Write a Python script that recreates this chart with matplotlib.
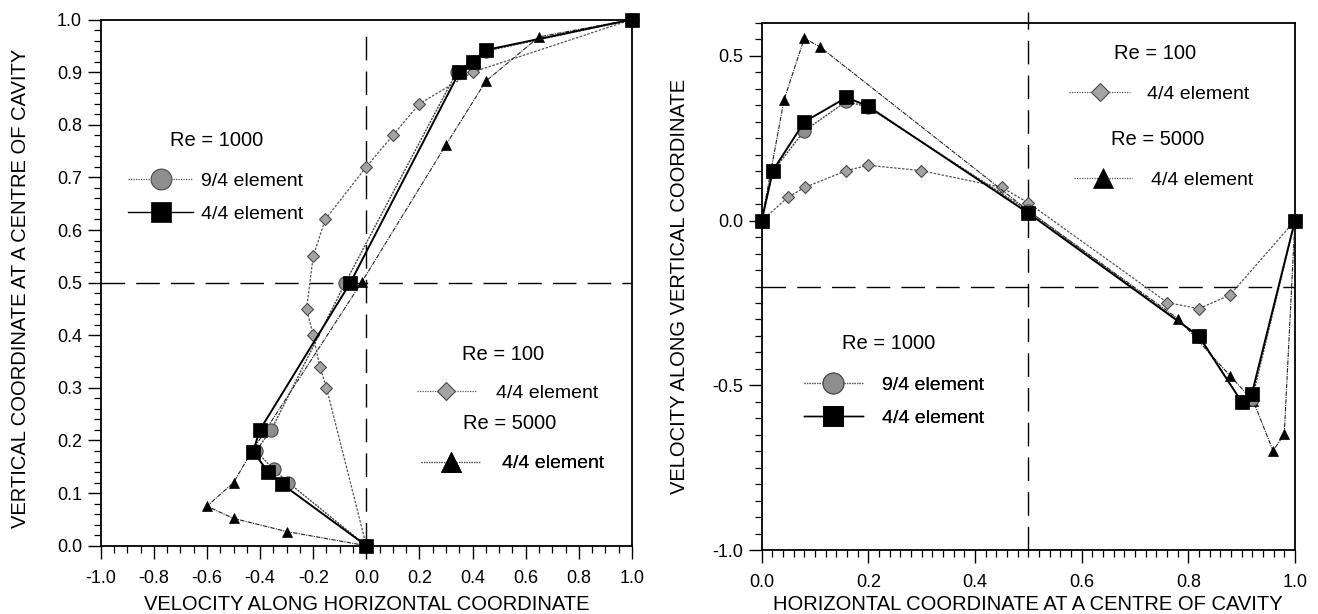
import matplotlib
matplotlib.use("Agg")
import matplotlib.pyplot as plt
from matplotlib.lines import Line2D
from matplotlib.ticker import MultipleLocator, FormatStrFormatter

plt.rcParams['font.family'] = ['Liberation Sans', 'DejaVu Sans']
plt.rcParams['axes.unicode_minus'] = False

# ---------------- Left panel: u along vertical centreline ----------------
L_re100_u = [0.0, -0.15, -0.175, -0.20, -0.225, -0.20, -0.155, 0.0, 0.10, 0.20, 0.40, 1.0]
L_re100_y = [0.0, 0.30, 0.34, 0.40, 0.45, 0.55, 0.62, 0.72, 0.78, 0.84, 0.90, 1.0]

L_re1000_94_u = [0.0, -0.294, -0.348, -0.416, -0.358, -0.079, 0.34, 0.40, 0.45, 1.0]
L_re1000_94_y = [0.0, 0.12, 0.145, 0.18, 0.22, 0.50, 0.90, 0.92, 0.94, 1.0]

L_re1000_44_u = [0.0, -0.317, -0.371, -0.426, -0.401, -0.06, 0.35, 0.40, 0.45, 1.0]
L_re1000_44_y = [0.0, 0.117, 0.141, 0.179, 0.22, 0.50, 0.90, 0.92, 0.942, 1.0]

L_re5000_u = [0.0, -0.30, -0.50, -0.60, -0.50, -0.43, -0.016, 0.30, 0.45, 0.65, 1.0]
L_re5000_y = [0.0, 0.027, 0.052, 0.075, 0.12, 0.18, 0.502, 0.762, 0.883, 0.967, 1.0]

L_xticks = [-1.0, -0.8, -0.6, -0.4, -0.2, 0.0, 0.2, 0.4, 0.6, 0.8, 1.0]
L_yticks = [0.0, 0.1, 0.2, 0.3, 0.4, 0.5, 0.6, 0.7, 0.8, 0.9, 1.0]
L_hline = 0.5
L_vline = 0.0

# ---------------- Right panel: v along horizontal centreline ----------------
R_re100_x = [0.0, 0.05, 0.081, 0.159, 0.20, 0.299, 0.45, 0.50, 0.761, 0.82, 0.878, 1.0]
R_re100_v = [0.0, 0.072, 0.101, 0.152, 0.168, 0.152, 0.101, 0.054, -0.249, -0.267, -0.226, 0.0]

R_re1000_94_x = [0.0, 0.021, 0.08, 0.159, 0.199, 0.50, 0.82, 0.90, 0.92, 1.0]
R_re1000_94_v = [0.0, 0.15, 0.273, 0.362, 0.345, 0.03, -0.35, -0.55, -0.54, 0.0]

R_re1000_44_x = [0.0, 0.021, 0.08, 0.159, 0.199, 0.50, 0.82, 0.90, 0.919, 1.0]
R_re1000_44_v = [0.0, 0.152, 0.30, 0.374, 0.348, 0.023, -0.351, -0.55, -0.527, 0.0]

R_re5000_x = [0.0, 0.042, 0.08, 0.109, 0.50, 0.781, 0.879, 0.922, 0.959, 0.98, 1.0]
R_re5000_v = [0.0, 0.367, 0.554, 0.528, 0.03, -0.298, -0.472, -0.548, -0.699, -0.648, 0.0]

R_xticks = [0.0, 0.2, 0.4, 0.6, 0.8, 1.0]
R_yticks = [-1.0, -0.5, 0.0, 0.5]
R_hline = -0.2
R_vline = 0.5

# ---------------- styles ----------------
st_re100 = dict(color='#555555', lw=0.9, ls=(0, (2, 1.2)), marker='D', ms=5.8,
                mfc='#a3a3a3', mec='#4a4a4a', mew=0.8)
st_94 = dict(color='#444444', lw=1.0, ls=(0, (1.5, 0.8)), marker='o', ms=9.5,
             mfc='#8e8e8e', mec='#4a4a4a', mew=0.8)
st_44 = dict(color='black', lw=1.4, ls='-', marker='s', ms=10.2,
             mfc='black', mec='black', mew=0.5)
st_5000 = dict(color='#222222', lw=0.8, ls=(0, (4, 1, 1, 1)), marker='^', ms=7,
               mfc='black', mec='black', mew=0.5)

def proxy(st, ms):
    d = dict(st)
    d['ms'] = ms
    d['ls'] = (0, (1, 1))
    d['lw'] = 0.9
    d['color'] = '#555555'
    if st is st_44:
        d['ls'] = '-'
        d['color'] = 'black'
        d['lw'] = 1.0
    return Line2D([], [], **d)

fig = plt.figure(figsize=(13.18, 6.14), dpi=100)
ax1 = fig.add_axes([0.0764, 0.1112, 0.4031, 0.857])
ax2 = fig.add_axes([0.5779, 0.1042, 0.4046, 0.8583])

dash = (0, (17, 8))

# left panel
ax1.axhline(L_hline, color='black', lw=1.0, ls=dash, zorder=1)
ax1.axvline(L_vline, ymax=0.985, color='black', lw=1.0, ls=dash, zorder=1)
ax1.plot(L_re100_u, L_re100_y, clip_on=False, zorder=3, **st_re100)
ax1.plot(L_re5000_u, L_re5000_y, clip_on=False, zorder=3, **st_5000)
ax1.plot(L_re1000_94_u, L_re1000_94_y, clip_on=False, zorder=4, **st_94)
ax1.plot(L_re1000_44_u, L_re1000_44_y, clip_on=False, zorder=5, **st_44)
ax1.set_xlim(-1.0, 1.0)
ax1.set_ylim(0.0, 1.0)
ax1.set_xticks(L_xticks)
ax1.set_yticks(L_yticks)
ax1.xaxis.set_minor_locator(MultipleLocator(0.05))
ax1.yaxis.set_minor_locator(MultipleLocator(0.02))
ax1.xaxis.set_major_formatter(FormatStrFormatter('%.1f'))
ax1.yaxis.set_major_formatter(FormatStrFormatter('%.1f'))
ax1.set_xlabel('VELOCITY ALONG HORIZONTAL COORDINATE', fontsize=14.5)
ax1.set_ylabel('VERTICAL COORDINATE AT A CENTRE OF CAVITY', fontsize=14.5)
ax1.xaxis.set_label_coords(0.5, -0.093)
ax1.yaxis.set_label_coords(-0.133, 0.49)

# right panel
ax2.axhline(R_hline, color='black', lw=1.0, ls=dash, zorder=1)
ax2.axvline(R_vline, ymax=1.02, clip_on=False, color='black', lw=1.0, ls=dash, zorder=1)
ax2.plot(R_re100_x, R_re100_v, clip_on=False, zorder=3, **st_re100)
ax2.plot(R_re5000_x, R_re5000_v, clip_on=False, zorder=3, **st_5000)
ax2.plot(R_re1000_94_x, R_re1000_94_v, clip_on=False, zorder=4, **st_94)
ax2.plot(R_re1000_44_x, R_re1000_44_v, clip_on=False, zorder=5, **st_44)
ax2.set_xlim(0.0, 1.0)
ax2.set_ylim(-1.0, 0.6)
ax2.set_xticks(R_xticks)
ax2.set_yticks(R_yticks)
ax2.xaxis.set_minor_locator(MultipleLocator(0.02))
ax2.yaxis.set_minor_locator(MultipleLocator(0.05))
ax2.xaxis.set_major_formatter(FormatStrFormatter('%.1f'))
ax2.yaxis.set_major_formatter(FormatStrFormatter('%.1f'))
ax2.set_xlabel('HORIZONTAL COORDINATE AT A CENTRE OF CAVITY', fontsize=14.5)
ax2.set_ylabel('VELOCITY ALONG VERTICAL COORDINATE', fontsize=14.5)
ax2.xaxis.set_label_coords(0.5, -0.085)
ax2.yaxis.set_label_coords(-0.136, 0.5)

for ax in (ax1, ax2):
    for s in ax.spines.values():
        s.set_linewidth(1.3)
        s.set_color('black')
    ax.tick_params(which='major', direction='out', length=9.5, width=1.0,
                   labelsize=13, color='black')
    ax.tick_params(axis='x', which='major', pad=8)
    ax.tick_params(axis='y', which='major', pad=4)
    ax.tick_params(which='minor', direction='out', length=5, width=0.9, color='black')

leg_fs = 14
title_fs = 14.5

def add_group(ax, title, title_xy, handles, labels, anchor_xy, hl, htp):
    ax.text(title_xy[0], title_xy[1], title, ha='center', va='center',
            fontsize=title_fs, transform=ax.transData)
    leg = ax.legend(handles, labels, loc='center left', bbox_to_anchor=anchor_xy,
                    bbox_transform=ax.transData, frameon=False, fontsize=leg_fs,
                    borderpad=0, borderaxespad=0, handlelength=hl,
                    handletextpad=htp, labelspacing=0.78)
    ax.add_artist(leg)

p94 = proxy(st_94, 15)
p44 = proxy(st_44, 15)
p100 = proxy(st_re100, 9.5)
p5000 = proxy(st_5000, 14)

add_group(ax1, 'Re = 1000', (-0.563, 0.77), [p94, p44], ['9/4 element', '4/4 element'],
          (-0.897, 0.662), 3.34, 0.4)
add_group(ax1, 'Re = 100', (0.516, 0.364), [p100], ['4/4 element'],
          (0.19, 0.29), 3.05, 1.0)
add_group(ax1, 'Re = 5000', (0.538, 0.232), [p5000], ['4/4 element'],
          (0.206, 0.156), 3.05, 1.1)

add_group(ax2, 'Re = 100', (0.737, 0.506), [p100], ['4/4 element'],
          (0.577, 0.384), 3.1, 0.9)
add_group(ax2, 'Re = 5000', (0.743, 0.245), [p5000], ['4/4 element'],
          (0.585, 0.122), 3.0, 1.0)
add_group(ax2, 'Re = 1000', (0.238, -0.374), [p94, p44], ['9/4 element', '4/4 element'],
          (0.08, -0.55), 3.0, 1.0)

fig.savefig('out.png', dpi=100)
